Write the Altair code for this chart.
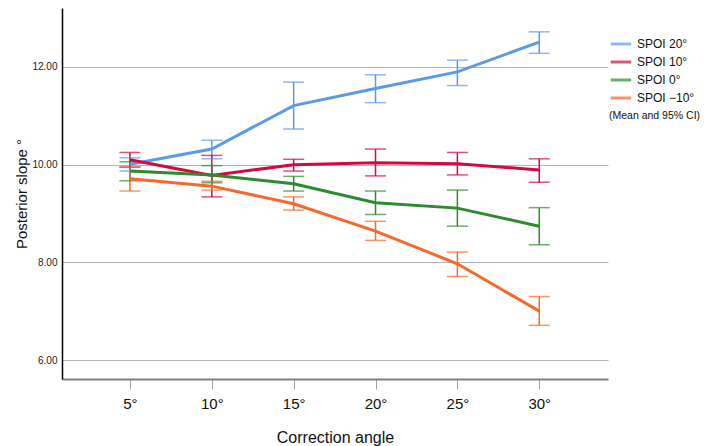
import altair as alt
import pandas as pd

angles = [5, 10, 15, 20, 25, 30]
series = ["SPOI 20°", "SPOI 10°", "SPOI 0°", "SPOI −10°"]
colors = ["#5B9BE6", "#D20A3E", "#2E8A2E", "#F46A2C"]

mean_20 = [10.01, 10.32, 11.21, 11.56, 11.90, 12.51]
lo_20 = [9.87, 10.12, 10.73, 11.27, 11.62, 12.28]
hi_20 = [10.14, 10.50, 11.69, 11.84, 12.14, 12.72]

mean_10 = [10.10, 9.78, 10.00, 10.04, 10.02, 9.89]
lo_10 = [9.95, 9.34, 9.87, 9.77, 9.79, 9.64]
hi_10 = [10.25, 10.19, 10.11, 10.32, 10.25, 10.12]

mean_0 = [9.87, 9.79, 9.61, 9.22, 9.11, 8.74]
lo_0 = [9.67, 9.63, 9.46, 8.98, 8.74, 8.36]
hi_0 = [10.06, 9.98, 9.76, 9.46, 9.48, 9.12]

mean_m10 = [9.71, 9.56, 9.20, 8.64, 7.97, 7.00]
lo_m10 = [9.46, 9.48, 9.07, 8.45, 7.71, 6.71]
hi_m10 = [9.95, 9.66, 9.34, 8.84, 8.21, 7.30]

rows = []
for name, m, lo, hi in zip(series,
                           [mean_20, mean_10, mean_0, mean_m10],
                           [lo_20, lo_10, lo_0, lo_m10],
                           [hi_20, hi_10, hi_0, hi_m10]):
    for a, mv, l, h in zip(angles, m, lo, hi):
        rows.append({"angle": a, "series": name, "mean": mv, "lo": l, "hi": h})
df = pd.DataFrame(rows)

FONT = "Liberation Sans"

x = alt.X("angle:Q",
          scale=alt.Scale(domain=[0.85, 34.2], nice=False, zero=False),
          axis=alt.Axis(values=angles, labelExpr="datum.value + '°'",
                        title="Correction angle", grid=False,
                        domainColor="#808080", domainWidth=2,
                        tickColor="#a0a0a0", tickSize=10, tickWidth=1,
                        labelFontSize=15, labelColor="#111", labelPadding=7,
                        titleFontSize=16, titleFontWeight="normal",
                        titleColor="#111", titlePadding=18,
                        labelFont=FONT, titleFont=FONT))
legend = alt.Legend(orient="none", legendX=547, legendY=24,
                    title="(Mean and 95% CI)", titleOrient="bottom",
                    titleFontSize=10.5, titleFontWeight="normal",
                    titleColor="#111", titleFont=FONT,
                    symbolType="stroke", symbolStrokeWidth=3,
                    symbolSize=420, labelFontSize=12,
                    labelColor="#111", labelFont=FONT,
                    rowPadding=0, labelOffset=4, titlePadding=7)
color = alt.Color("series:N", scale=alt.Scale(domain=series, range=colors),
                  legend=legend)

yscale = alt.Scale(domain=[5.611, 13.208], nice=False, zero=False)

line = alt.Chart(df).mark_line(strokeWidth=3).encode(
    x=x,
    y=alt.Y("mean:Q", scale=yscale,
            axis=alt.Axis(values=[6, 8, 10, 12], format=".2f",
                          title="Posterior slope °", grid=True,
                          gridColor="#b4b4b4", gridWidth=1.2,
                          domainColor="#000", domainWidth=1.5,
                          ticks=False, labelFontSize=10, labelColor="#222",
                          labelPadding=5, titleFontSize=15,
                          titleFontWeight="normal", titleColor="#111",
                          titlePadding=2, labelFont=FONT, titleFont=FONT)),
    color=color,
)

rule = alt.Chart(df).mark_rule(strokeWidth=1.5).encode(
    x="angle:Q", y=alt.Y("lo:Q", scale=yscale), y2="hi:Q", color=color,
)
cap_lo = alt.Chart(df).mark_tick(orient="horizontal", size=21, thickness=1.5).encode(
    x="angle:Q", y=alt.Y("lo:Q", scale=yscale), color=color,
)
cap_hi = alt.Chart(df).mark_tick(orient="horizontal", size=21, thickness=1.5).encode(
    x="angle:Q", y=alt.Y("hi:Q", scale=yscale), color=color,
)

chart = alt.layer(rule, cap_lo, cap_hi, line).properties(
    width=546, height=371,
    background="white",
    autosize=alt.AutoSizeParams(type="none"),
    padding={"left": 54, "top": 0, "right": 93, "bottom": 70},
).configure_view(stroke=None)

chart.save("out.html", embed_options={"renderer": "svg", "actions": False})
